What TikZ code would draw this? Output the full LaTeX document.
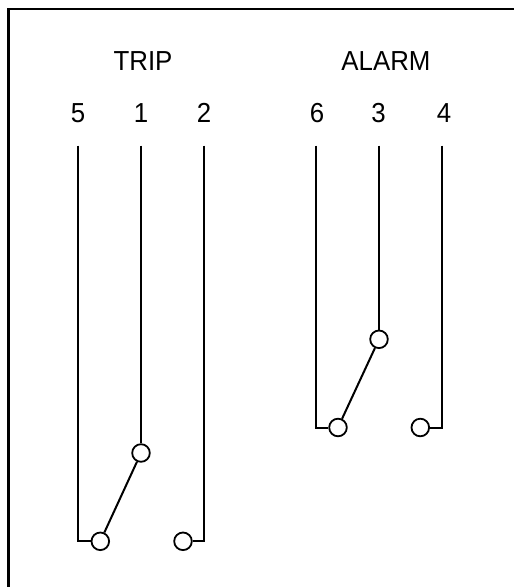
\documentclass[tikz,border=0pt]{standalone}
\usepackage{fontspec}
\setmainfont{Liberation Sans}
\newcommand{\lb}[1]{\scalebox{0.94}[1]{#1}}
\begin{document}
\begin{tikzpicture}[x=1pt,y=-1pt,
  wire/.style={line width=2pt,black},
  term/.style={circle,draw=black,line width=1.8pt,fill=white,minimum size=17.6pt,inner sep=0pt},
  lbl/.style={font=\fontsize{27.5}{28}\selectfont,text=black,inner sep=0pt,anchor=base},
  frame/.style={line width=2.3pt,black}]
\useasboundingbox (0,0) rectangle (514,587);
\fill[white] (0,0) rectangle (514,587);
\draw[frame] (8.5,587) -- (8.5,9) -- (514,9);
\node[lbl] (trip) at (143,70.5) {\lb{TRIP}};
\node[lbl] (alarm) at (386,70.5) {\lb{ALARM}};
\node[lbl] (n5) at (78,122.7) {\lb{5}};
\node[lbl] (n1) at (141,122.7) {\lb{1}};
\node[lbl] (n2) at (204,122.7) {\lb{2}};
\node[lbl] (n6) at (317,122.7) {\lb{6}};
\node[lbl] (n3) at (378.5,122.7) {\lb{3}};
\node[lbl] (n4) at (444,122.7) {\lb{4}};
\node[term] (a) at (141,453) {};
\node[term] (b) at (100.3,541.3) {};
\node[term] (c) at (183,541.3) {};
\node[term] (d) at (379,339.3) {};
\node[term] (e) at (338,427.5) {};
\node[term] (f) at (420.3,427.5) {};
\coordinate (t5) at (78,145.7);
\coordinate (t1) at (141,145.7);
\coordinate (t2) at (204.2,145.7);
\coordinate (t6) at (316,145.7);
\coordinate (t3) at (379,145.7);
\coordinate (t4) at (442.2,145.7);
\draw[wire] (t5) |- (b);
\draw[wire] (t1) -- (a);
\draw[wire] (t2) |- (c);
\draw[wire] (a) -- (b);
\draw[wire] (t6) |- (e);
\draw[wire] (t3) -- (d);
\draw[wire] (t4) |- (f);
\draw[wire] (d) -- (e);
\end{tikzpicture}
\end{document}
